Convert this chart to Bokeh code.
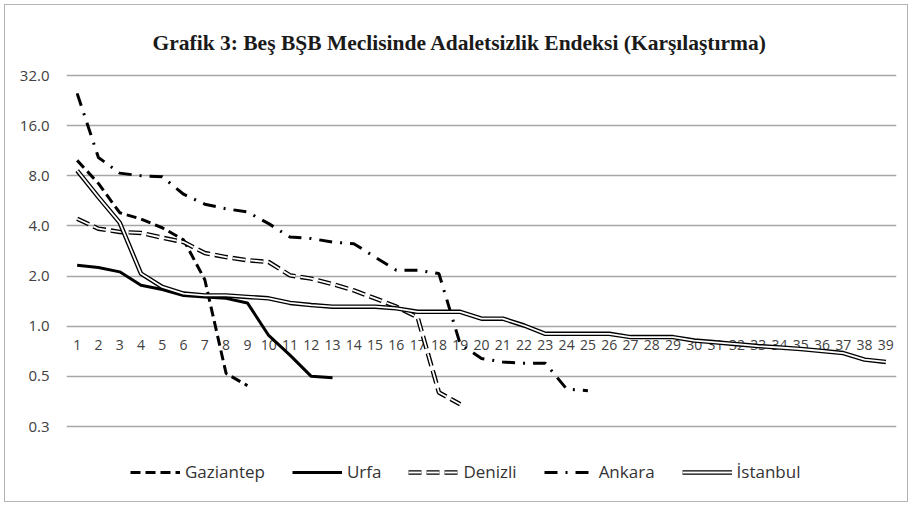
from bokeh.plotting import figure
from bokeh.models import Range1d, FixedTicker, Legend, LegendItem, ColumnDataSource, CustomJSTickFormatter
from bokeh.core.properties import value
from bokeh.embed import file_html
from bokeh.resources import INLINE

title_text = "Grafik 3: Beş BŞB Meclisinde Adaletsizlik Endeksi (Karşılaştırma)"

categories = list(range(1, 40))
category_labels = [str(c) for c in categories]

y_ticks = [0.25, 0.5, 1.0, 2.0, 4.0, 8.0, 16.0, 32.0]
y_labels = ["0.3", "0.5", "1.0", "2.0", "4.0", "8.0", "16.0", "32.0"]

gaziantep = [9.9, 7.2, 4.8, 4.4, 3.9, 3.3, 1.9, 0.52, 0.44]
urfa = [2.32, 2.25, 2.12, 1.76, 1.66, 1.53, 1.50, 1.47, 1.38, 0.88, 0.67, 0.50, 0.49]
denizli = [4.42, 3.85, 3.68, 3.63, 3.40, 3.20, 2.75, 2.60, 2.49, 2.43, 2.02, 1.93,
           1.79, 1.64, 1.47, 1.31, 1.13, 0.40, 0.34]
ankara = [25.0, 10.3, 8.3, 8.0, 7.9, 6.2, 5.4, 5.07, 4.85, 4.13, 3.43, 3.36, 3.20,
          3.13, 2.60, 2.17, 2.17, 2.07, 0.78, 0.64, 0.61, 0.60, 0.60, 0.42, 0.41]
istanbul = [8.6, 5.96, 4.19, 2.07, 1.72, 1.57, 1.53, 1.53, 1.50, 1.47, 1.38, 1.34,
            1.31, 1.31, 1.31, 1.28, 1.22, 1.22, 1.22, 1.11, 1.11, 1.01, 0.90, 0.90,
            0.90, 0.90, 0.86, 0.86, 0.86, 0.82, 0.80, 0.78, 0.76, 0.745, 0.73, 0.71,
            0.69, 0.63, 0.61]

# layout (pixels)
W, H = 912, 506
frame_left, frame_right = 66, 896
top_px, bottom_px = 75, 426          # where 32 and 0.25 sit
frame_top, frame_bottom = 73, H - 5  # frame extends below for the legend
px_per_doubling = (bottom_px - top_px) / 7.0
y_hi = 32.0 * 2 ** ((top_px - frame_top) / px_per_doubling)
y_lo = 0.25 / 2 ** ((frame_bottom - bottom_px) / px_per_doubling)

p = figure(width=W, height=H, output_backend="svg", toolbar_location=None,
           y_axis_type="log", x_range=Range1d(0.5, 39.5), y_range=Range1d(y_lo, y_hi),
           x_axis_location=None, min_border_left=frame_left, min_border_right=W - frame_right,
           min_border_top=frame_top, min_border_bottom=H - frame_bottom)
p.border_fill_color = None
p.background_fill_color = None
p.styles = {"outline": "1px solid #b4b4b4", "outline-offset": "-5px"}

p.title.text = title_text
p.title.align = "left"
p.title.offset = 86
p.title.standoff = 38
p.title.text_font = "Liberation Serif"
p.title.text_font_style = "bold"
p.title.text_font_size = "21.5px"
p.title.text_color = "#1a1a1a"

p.outline_line_color = None
p.xgrid.visible = False
p.ygrid.ticker = FixedTicker(ticks=y_ticks)
p.ygrid.grid_line_color = "#a6a6a6"
p.ygrid.grid_line_width = 1.6

yax = p.yaxis[0]
yax.ticker = FixedTicker(ticks=y_ticks, minor_ticks=[])
yax.formatter = CustomJSTickFormatter(args=dict(yt=y_ticks, yl=y_labels), code="""
const i = yt.indexOf(tick);
return i >= 0 ? yl[i] : tick.toFixed(1);
""")
yax.axis_line_color = None
yax.major_tick_line_color = None
yax.minor_tick_line_color = None
yax.major_tick_out = 0
yax.major_tick_in = 0
yax.major_label_standoff = 17
yax.major_label_text_font = "Open Sans"
yax.major_label_text_font_size = "15px"
yax.major_label_text_color = "#404040"

cat_src = ColumnDataSource(dict(x=categories, y=[1.0] * len(categories), text=category_labels))
p.text(x="x", y="y", text="text", source=cat_src, text_align="center",
       text_baseline="middle", y_offset=19, text_font=value("Open Sans"),
       text_font_size="14px", text_color="#404040")

def xs(series):
    return categories[:len(series)]

r_g = p.line(xs(gaziantep), gaziantep, line_color="black", line_width=3, line_dash="10 5")
r_u = p.line(xs(urfa), urfa, line_color="black", line_width=3)
r_d1 = p.line(xs(denizli), denizli, line_color="black", line_width=4.5, line_dash="13 5")
r_d2 = p.line(xs(denizli), denizli, line_color="white", line_width=1.8, line_dash="13 5")
r_a = p.line(xs(ankara), ankara, line_color="black", line_width=3, line_dash="13 8 2 8")
r_i1 = p.line(xs(istanbul), istanbul, line_color="black", line_width=4.5)
r_i2 = p.line(xs(istanbul), istanbul, line_color="white", line_width=1.8)

legend = Legend(items=[
    LegendItem(label="Gaziantep", renderers=[r_g]),
    LegendItem(label="Urfa", renderers=[r_u]),
    LegendItem(label="Denizli", renderers=[r_d1, r_d2]),
    LegendItem(label="Ankara", renderers=[r_a]),
    LegendItem(label="İstanbul", renderers=[r_i1, r_i2]),
], orientation="horizontal", location=(64, frame_bottom - 483), border_line_color=None,
   background_fill_alpha=0, glyph_width=50, glyph_height=20, label_standoff=5,
   spacing=27, padding=0, margin=0, label_text_font="Open Sans",
   label_text_font_size="17px", label_text_color="#333333")
p.add_layout(legend, "center")

open("out.html", "w").write(file_html(p, INLINE))
